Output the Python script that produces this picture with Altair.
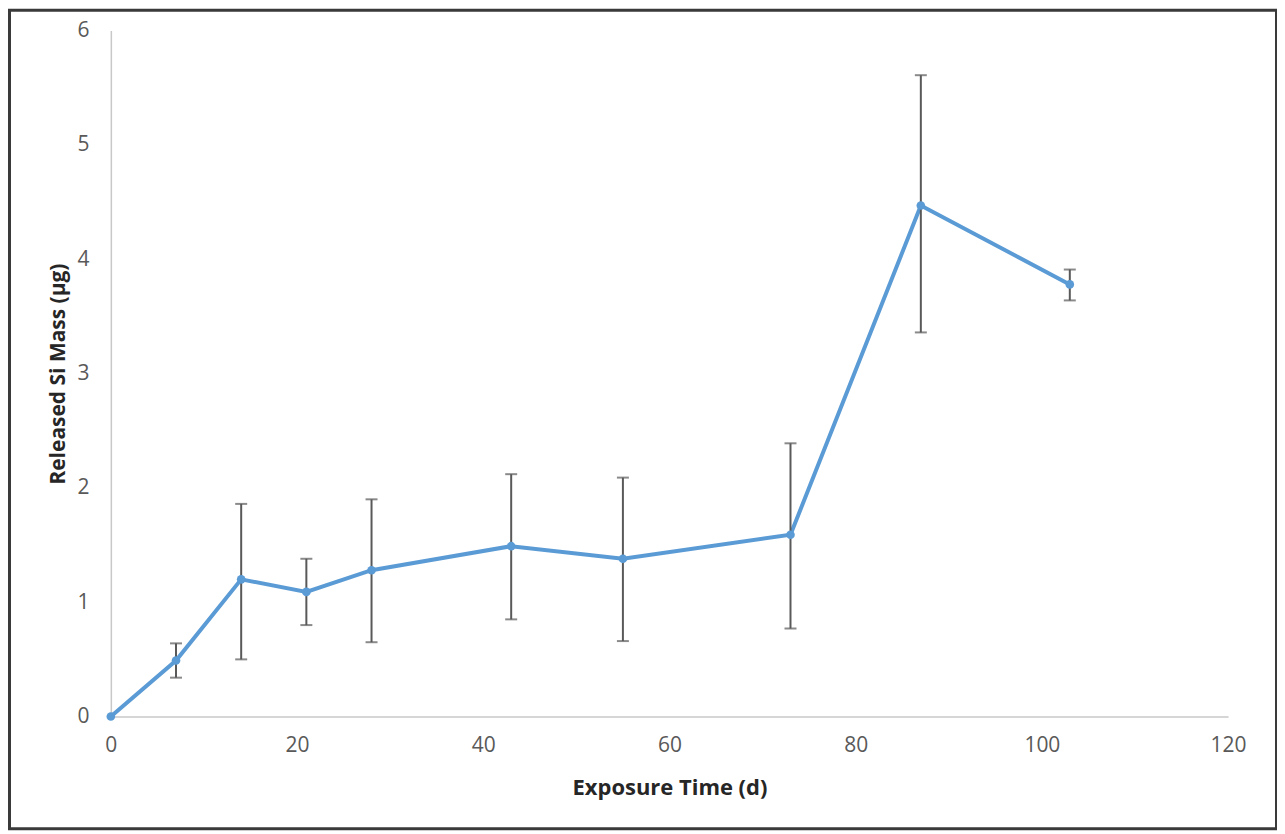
import altair as alt
import pandas as pd

# Data
days = [0, 7, 14, 21, 28, 43, 55, 73, 87, 103]
mass = [0.0, 0.49, 1.20, 1.09, 1.28, 1.49, 1.38, 1.59, 4.47, 3.78]
err_low = [None, 0.34, 0.50, 0.80, 0.65, 0.85, 0.66, 0.77, 3.36, 3.64]
err_high = [None, 0.64, 1.86, 1.38, 1.90, 2.12, 2.09, 2.39, 5.61, 3.91]
x_ticks = [0, 20, 40, 60, 80, 100, 120]
y_ticks = [0, 1, 2, 3, 4, 5, 6]

df = pd.DataFrame({"day": days, "mass": mass, "lo": err_low, "hi": err_high})
df_err = df.dropna()

FONT = "Open Sans"
LINE_COLOR = "#5b9bd5"
ERR_COLOR = "#595959"

x_enc = alt.X(
    "day:Q",
    scale=alt.Scale(domain=[0, 120], nice=False),
    axis=alt.Axis(
        values=x_ticks,
        format="d",
        title="Exposure Time (d)",
        grid=False,
        ticks=False,
        tickSize=0,
        labelFlush=False,
        domainColor="#c8c8c8",
        domainWidth=1.5,
        labelColor="#595959",
        labelFont=FONT,
        labelFontSize=21,
        labelPadding=18,
        titleFont=FONT,
        titleFontSize=22,
        titleFontWeight="bold",
        titleColor="#262626",
        titlePadding=22,
    ),
)
y_enc = alt.Y(
    "mass:Q",
    scale=alt.Scale(domain=[0, 6], nice=False),
    axis=alt.Axis(
        values=y_ticks,
        format="d",
        title="Released Si Mass (µg)",
        grid=False,
        ticks=False,
        tickSize=0,
        labelFlush=False,
        domainColor="#c8c8c8",
        domainWidth=1.5,
        labelColor="#595959",
        labelFont=FONT,
        labelFontSize=21,
        labelPadding=22,
        titleFont=FONT,
        titleFontSize=21,
        titleFontWeight="bold",
        titleColor="#262626",
        titlePadding=8,
    ),
)

base = alt.Chart(df)

err_rule = alt.Chart(df_err).mark_rule(color=ERR_COLOR, strokeWidth=2).encode(
    x="day:Q", y="lo:Q", y2="hi:Q"
)
cap_hi = alt.Chart(df_err).mark_tick(
    color=ERR_COLOR, orient="horizontal", size=12, thickness=2
).encode(x="day:Q", y="hi:Q")
cap_lo = alt.Chart(df_err).mark_tick(
    color=ERR_COLOR, orient="horizontal", size=12, thickness=2
).encode(x="day:Q", y="lo:Q")

line = base.mark_line(color=LINE_COLOR, strokeWidth=4).encode(x=x_enc, y=y_enc)
pts = base.mark_point(filled=True, color=LINE_COLOR, size=75, opacity=1).encode(
    x="day:Q", y="mass:Q"
)

frame = alt.Chart(pd.DataFrame({"k": [0]})).mark_rect(
    fill="white", fillOpacity=0, stroke="#3a3a3a", strokeWidth=3
).encode(
    x=alt.value(-101.5),
    x2=alt.value(1167.5),
    y=alt.value(-20.5),
    y2=alt.value(799.5),
)

chart = (
    alt.layer(line, err_rule, cap_hi, cap_lo, pts, frame)
    .properties(
        width=1119,
        height=687,
        autosize=alt.AutoSizeParams(type="none"),
        padding={"left": 103, "top": 22, "right": 49, "bottom": 114},
        background="white",
    )
    .configure_view(stroke=None)
)

chart.save("out.html", embed_options={"renderer": "svg", "actions": False})
